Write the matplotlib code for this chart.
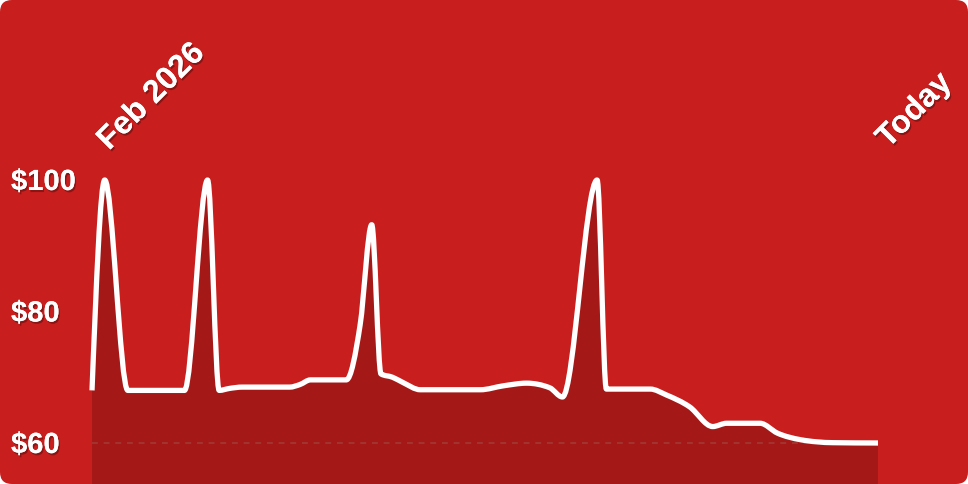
import numpy as np
import matplotlib
matplotlib.use("Agg")
import matplotlib.pyplot as plt
from matplotlib.path import Path
from matplotlib.patches import PathPatch, FancyBboxPatch
from matplotlib import transforms as mtransforms
import matplotlib.patheffects as pe

# days since Feb 1, 2026 and price in $
days = [0.0, 1.1, 3.1, 8.0, 10.0, 11.0, 11.9, 13.0, 17.1, 18.0, 18.9,
        22.0, 23.2, 24.2, 25.0, 26.0, 26.9, 28.4, 33.6, 35.6, 37.6, 39.6, 40.7,
        43.7, 44.5, 48.3, 49.7, 51.7, 53.7, 54.9, 57.8, 59.3, 61.3, 64.1, 68.0]
price = [68.0, 100, 68.0, 68.0, 100, 68.0, 68.3, 68.5, 68.5, 68.9, 69.6,
         69.6, 78, 93.2, 70.5, 70.0, 69.2, 68.1, 68.1, 68.7, 69.1, 68.4, 67.0,
         100, 68.2, 68.2, 67.3, 65.5, 62.5, 63.0, 63.0, 61.5, 60.5, 60.05, 60.0]
ytick_vals = [100, 80, 60]
ytick_labels = ["$100", "$80", "$60"]
start_label = "Feb 2026"
end_label = "Today"

BG = "#C81E1E"
FILL = "#A51818"
W, H = 968, 484


def monotone_x_path(x, y):
    # same as d3.curveMonotoneX, as cubic bezier segments
    x = np.asarray(x, float)
    y = np.asarray(y, float)
    n = len(x)
    h = np.diff(x)
    s = np.diff(y) / h
    t = np.zeros(n)
    sgn = lambda v: -1.0 if v < 0 else 1.0
    for i in range(1, n - 1):
        p = (s[i - 1] * h[i] + s[i] * h[i - 1]) / (h[i - 1] + h[i])
        t[i] = (sgn(s[i - 1]) + sgn(s[i])) * min(abs(s[i - 1]), abs(s[i]), 0.5 * abs(p))
    t[0] = (3 * s[0] - t[1]) / 2
    t[-1] = (3 * s[-1] - t[-2]) / 2
    verts = [(x[0], y[0])]
    codes = [Path.MOVETO]
    for i in range(n - 1):
        dx = h[i] / 3
        verts += [(x[i] + dx, y[i] + dx * t[i]),
                  (x[i + 1] - dx, y[i + 1] - dx * t[i + 1]),
                  (x[i + 1], y[i + 1])]
        codes += [Path.CURVE4] * 3
    return verts, codes


fig = plt.figure(figsize=(W / 100, H / 100), dpi=100)
fig.patch.set_facecolor("white")
bg = FancyBboxPatch((0, 0), W, H, boxstyle="round,pad=0,rounding_size=12",
                    transform=mtransforms.IdentityTransform(),
                    facecolor=BG, edgecolor="none", zorder=0)
fig.add_artist(bg)

ax = fig.add_axes([0, 0, 1, 1])
ax.set_facecolor("none")
ax.axis("off")

# pixel layout: first day at x=92, last at x=878; $100 at y=180, $60 at y=443 (from top)
x0px, x1px = 92, 878
span = days[-1] - days[0]
ppd = (x1px - x0px) / span
ax.set_xlim(days[0] - x0px / ppd, days[-1] + (W - x1px) / ppd)
ppv = (443 - 180) / 40.0
ybot = 60 - (H - 443) / ppv
ax.set_ylim(ybot, 60 + 443 / ppv)

verts, codes = monotone_x_path(days, price)

# area under the curve
area_verts = verts + [(days[-1], ybot), (days[0], ybot), verts[0]]
area_codes = codes + [Path.LINETO, Path.LINETO, Path.CLOSEPOLY]
ax.add_patch(PathPatch(Path(area_verts, area_codes), facecolor=FILL,
                       edgecolor="none", zorder=1))

# dashed $60 reference
ax.plot([days[0], days[-1]], [60, 60], color="#A23A36", lw=1.2,
        dashes=(3.5, 3.5), zorder=2)

ax.add_patch(PathPatch(Path(verts, codes), facecolor="none", edgecolor="white",
                       lw=3.8, capstyle="butt", joinstyle="round", zorder=3))

shadow = [pe.withSimplePatchShadow(offset=(1, -1.5), shadow_rgbFace="black", alpha=0.3),
          pe.Normal()]
font = dict(family=["Liberation Sans", "DejaVu Sans"], weight="bold", color="white")

ylab_tr = mtransforms.offset_copy(ax.get_yaxis_transform(), fig=fig, y=-10, units="dots")
for v, lab in zip(ytick_vals, ytick_labels):
    ax.text(11 / W, v, lab, transform=ylab_tr, ha="left", va="baseline",
            fontsize=21, path_effects=shadow, **font)

ax.text(109 / W, 1 - 151 / H, start_label, transform=ax.transAxes, rotation=45,
        rotation_mode="anchor", ha="left", va="baseline", fontsize=23,
        path_effects=shadow, **font)
ax.text(888 / W, 1 - 149 / H, end_label, transform=ax.transAxes, rotation=45,
        rotation_mode="anchor", ha="left", va="baseline", fontsize=23,
        path_effects=shadow, **font)

fig.savefig("out.png", dpi=100, facecolor="white")
